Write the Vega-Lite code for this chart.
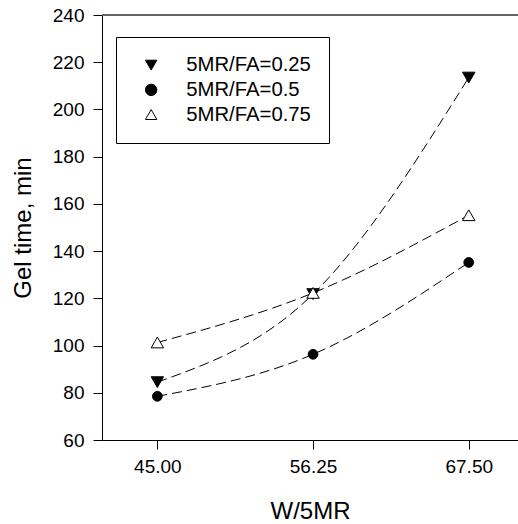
{
  "$schema": "https://vega.github.io/schema/vega-lite/v6.json",
  "autosize": {"type": "none"},
  "padding": {"left": 102, "top": 15, "right": 0, "bottom": 84},
  "width": 416,
  "height": 425,
  "background": "white",
  "config": {
    "view": {"stroke": null},
    "font": "Liberation Sans",
    "axis": {
      "domainColor": "black", "tickColor": "black", "labelColor": "black", "titleColor": "black",
      "grid": false, "labelFontSize": 19, "titleFontSize": 24, "titleFontWeight": "normal",
      "tickSize": 9, "domainWidth": 1, "tickWidth": 1, "labelFont": "Liberation Sans", "titleFont": "Liberation Sans"
    },
    "legend": {
      "title": null, "orient": "none", "legendX": 14, "legendY": 22,
      "strokeColor": "black", "fillColor": "white", "padding": 18,
      "labelFontSize": 20.3, "labelColor": "black", "labelFont": "Liberation Sans",
      "symbolSize": 130, "symbolStrokeWidth": 1,
      "symbolOffset": 7, "labelOffset": 25, "rowPadding": 3.7
    }
  },
  "data": {"values": [
    {"w": 45, "t": 84.5, "series": "5MR/FA=0.25"},
    {"w": 56.25, "t": 121.8, "series": "5MR/FA=0.25"},
    {"w": 67.5, "t": 213.5, "series": "5MR/FA=0.25"},
    {"w": 45, "t": 78.5, "series": "5MR/FA=0.5"},
    {"w": 56.25, "t": 96.3, "series": "5MR/FA=0.5"},
    {"w": 67.5, "t": 135.2, "series": "5MR/FA=0.5"},
    {"w": 45, "t": 101.3, "series": "5MR/FA=0.75"},
    {"w": 56.25, "t": 122.3, "series": "5MR/FA=0.75"},
    {"w": 67.5, "t": 155.2, "series": "5MR/FA=0.75"}
  ]},
  "encoding": {
    "x": {
      "field": "w", "type": "quantitative",
      "scale": {"domain": [41, 71.06], "nice": false, "zero": false},
      "axis": {"title": "W/5MR", "values": [45, 56.25, 67.5], "format": ".2f", "labelPadding": 8,
               "titleBaseline": "alphabetic", "titleY": 78}
    },
    "y": {
      "field": "t", "type": "quantitative",
      "scale": {"domain": [60, 240], "nice": false, "zero": false},
      "axis": {"title": "Gel time, min", "values": [60, 80, 100, 120, 140, 160, 180, 200, 220, 240],
               "labelPadding": 9, "titleBaseline": "alphabetic", "titleX": -72, "titleY": 212.5}
    },
    "shape": {
      "field": "series", "type": "nominal",
      "scale": {"domain": ["5MR/FA=0.25", "5MR/FA=0.5", "5MR/FA=0.75"], "range": ["triangle-down", "circle", "triangle-up"]}
    },
    "fill": {
      "field": "series", "type": "nominal",
      "scale": {"domain": ["5MR/FA=0.25", "5MR/FA=0.5", "5MR/FA=0.75"], "range": ["black", "black", "white"]}
    },
    "stroke": {
      "field": "series", "type": "nominal",
      "scale": {"domain": ["5MR/FA=0.25", "5MR/FA=0.5", "5MR/FA=0.75"], "range": ["black", "black", "black"]}
    }
  },
  "layer": [
    {
      "mark": {"type": "rule", "color": "#666666", "strokeWidth": 1.5},
      "encoding": {"y": {"datum": 240}, "x": {"value": 0}, "x2": {"value": 416}, "shape": null, "fill": null, "stroke": null}
    },
    {
      "mark": {"type": "line", "interpolate": "monotone", "color": "black", "strokeWidth": 1, "strokeDash": [10, 5]},
      "encoding": {"detail": {"field": "series"}, "shape": null, "fill": null, "stroke": null}
    },
    {
      "transform": [{"filter": "datum.series !== '5MR/FA=0.5'"}],
      "mark": {"type": "point", "filled": true, "strokeWidth": 1, "opacity": 1, "size": 155}
    },
    {
      "transform": [{"filter": "datum.series === '5MR/FA=0.5'"}],
      "mark": {"type": "point", "filled": true, "strokeWidth": 1, "opacity": 1, "size": 95}
    }
  ]
}
